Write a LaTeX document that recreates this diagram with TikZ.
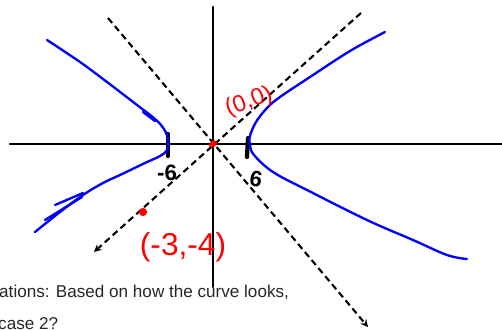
\documentclass[tikz,border=0pt]{standalone}
\usepackage{fontspec}
\setmainfont{Liberation Sans}
\begin{document}
\begin{tikzpicture}[x=0.03cm, y=-0.03cm, >=stealth, line join=round, line cap=round,
    axis/.style={line width=2pt},
    asym/.style={line width=1.8pt, line cap=butt, dash pattern=on 5.5pt off 3.5pt},
    branch/.style={blue, line width=2pt},
    tickmark/.style={line width=3.6pt},
    hand/.style={inner sep=0pt, font=\fontsize{19}{19}\selectfont\bfseries},
    note/.style={anchor=base west, inner sep=0pt, text=black!85, font=\fontsize{14.6}{14.6}\selectfont}]
    \useasboundingbox (0,0) rectangle (502,329);
    % axes
    \coordinate (O) at (213,144);
    \coordinate (xl) at (10,144); \coordinate (xr) at (502,144);
    \coordinate (yt) at (213,7); \coordinate (yb) at (213,287);
    \draw[axis] (xl)--(xr);
    \draw[axis] (yt)--(yb);
    % asymptotes
    \coordinate (a1s) at (108,18); \coordinate (a1e) at (368,327);
    \coordinate (a2s) at (361,13); \coordinate (a2e) at (94,252);
    \draw[asym,->] (a1s)--(a1e);
    \draw[asym,->] (a2s)--(a2e);
    % vertices
    \coordinate (vl1) at (168,134); \coordinate (vl2) at (168,156);
    \coordinate (vr1) at (248,138); \coordinate (vr2) at (247,157);
    \draw[tickmark] (vl1)--(vl2);
    \draw[tickmark] (vr1)--(vr2);
    \node[hand] (mlab) at (167,173) {-6};
    \node[hand, rotate=-10] (plab) at (256,179) {6};
    % branches
    \draw[branch] plot[smooth, tension=0.6] coordinates {(385,32) (350,51) (310,77) (280,97) (267,108) (256,122) (250,136) (250,145) (254,155) (273,172) (307,190) (367,220) (413,240) (447,255) (467,259)};
    \draw[branch] plot[smooth, tension=0.6] coordinates {(47,40) (80,62) (107,82) (137,105) (155,119) (164,129) (168,140) (167,150) (160,156) (145,163) (120,175) (103,183) (83,195) (60,212) (35,232)};
    \draw[branch] (143,112)--(155,121);
    \draw[branch] (55,205)--(83,193);
    \draw[branch] (45,220)--(82,197);
    % points
    \fill[red, rotate around={35:(O)}] (O) ellipse (4.5 and 3);
    \node[circle, fill=red, inner sep=0pt, minimum size=7pt] (P) at (143,212) {};
    \node[hand, red, rotate=20, font=\fontsize{20}{20}\selectfont] (olab) at (249,102) {(0,0)};
    \node[hand, red, font=\fontsize{27}{27}\selectfont] (plab2) at (183,247) {(-3,-4)};
    % text
    \node[note] (note1) at (-1,297) {ations: Based on how the curve looks,};
    \node[note] (note2) at (-2,329) {case 2?};
\end{tikzpicture}
\end{document}
